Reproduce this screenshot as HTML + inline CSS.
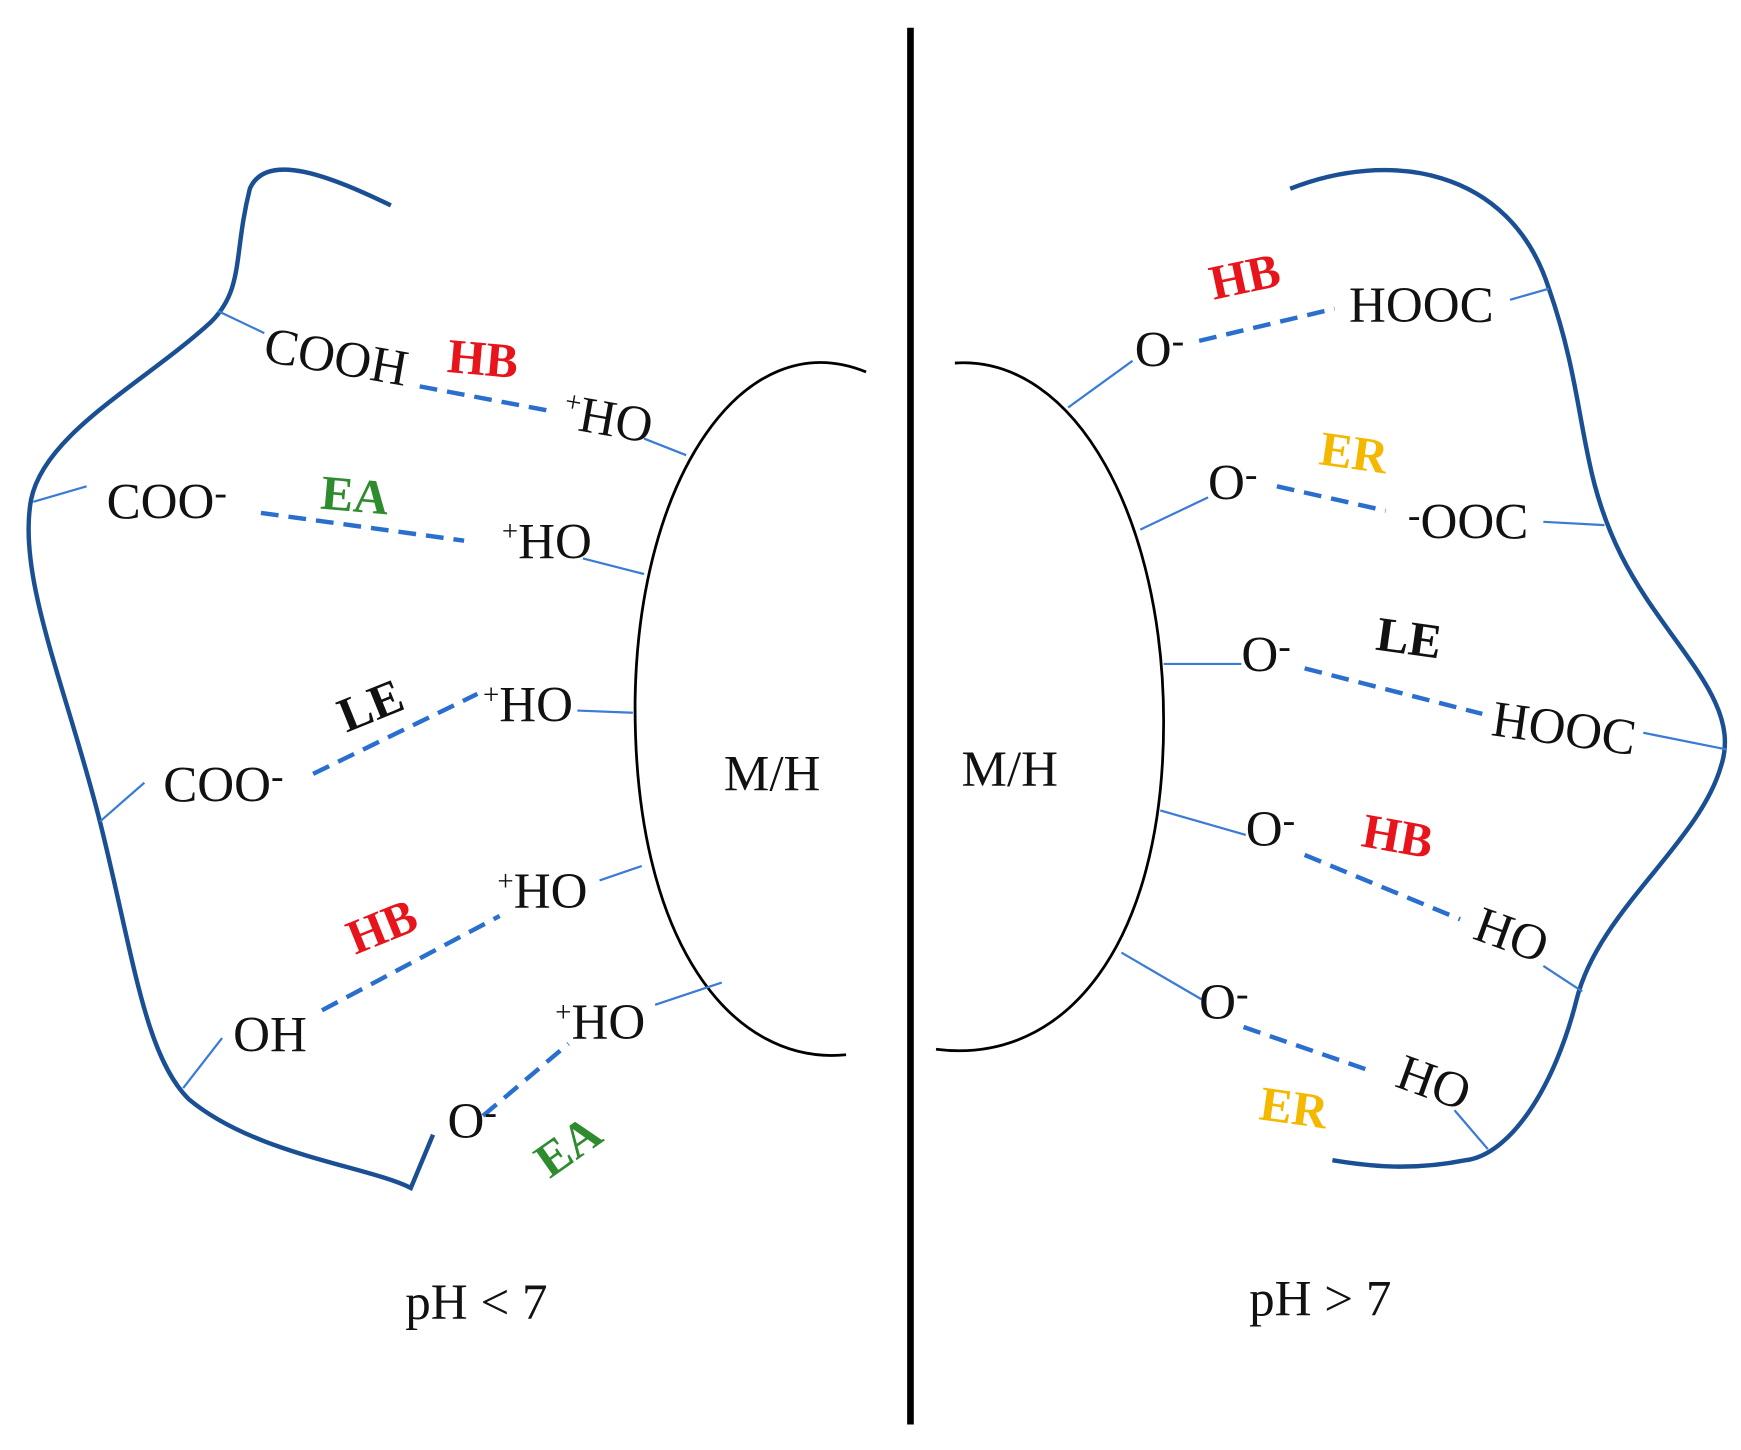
<!DOCTYPE html>
<html><head><meta charset="utf-8"><style>
html,body{margin:0;padding:0;background:#fff;}
svg{display:block;}
text{font-family:"Liberation Serif",serif;font-size:46px;fill:#111;}
.b{font-weight:bold;font-size:44px;}
</style></head><body>
<svg width="1741" height="1450" viewBox="0 0 1568 1306" preserveAspectRatio="none" xmlns="http://www.w3.org/2000/svg">
<rect width="1568" height="1306" fill="#fff"/>
<line x1="820" y1="25" x2="820" y2="1283" stroke="#000" stroke-width="6"/>
<path d="M352,185 C300,160 240,135 225,170 C210,230 220,260 190,290 C130,345 40,390 28,450 C15,520 60,620 90,740 C120,860 130,950 170,990 C230,1040 330,1050 370,1070 L390,1022" fill="none" stroke="#1a4f94" stroke-width="4"/>
<path d="M1162,170 C1250,135 1360,150 1395,260 C1430,360 1420,420 1460,500 C1500,580 1570,630 1550,690 C1530,760 1440,820 1420,900 C1400,980 1360,1040 1320,1045 C1270,1055 1230,1050 1200,1045" fill="none" stroke="#1a4f94" stroke-width="4"/>
<path d="M780,335 C670,290 575,430 572,630 C570,850 660,960 762,950" fill="none" stroke="#000" stroke-width="2.5"/>
<path d="M860,327 C970,320 1048,470 1048,650 C1048,850 960,960 843,945" fill="none" stroke="#000" stroke-width="2.5"/>
<text x="652" y="712">M/H</text>
<text x="866" y="708">M/H</text>
<g stroke="#3a7bd5" stroke-width="2">
<line x1="196" y1="280" x2="238" y2="300"/>
<line x1="30" y1="452" x2="78" y2="438"/>
<line x1="90" y1="740" x2="130" y2="705"/>
<line x1="165" y1="980" x2="200" y2="935"/>
<line x1="580" y1="395" x2="618" y2="410"/>
<line x1="525" y1="503" x2="580" y2="517"/>
<line x1="520" y1="640" x2="570" y2="642"/>
<line x1="540" y1="793" x2="578" y2="780"/>
<line x1="590" y1="905" x2="650" y2="885"/>
<line x1="962" y1="367" x2="1020" y2="325"/>
<line x1="1360" y1="270" x2="1395" y2="260"/>
<line x1="1027" y1="477" x2="1088" y2="448"/>
<line x1="1390" y1="470" x2="1445" y2="473"/>
<line x1="1048" y1="598" x2="1118" y2="598"/>
<line x1="1480" y1="660" x2="1555" y2="675"/>
<line x1="1045" y1="730" x2="1122" y2="752"/>
<line x1="1390" y1="870" x2="1425" y2="893"/>
<line x1="1010" y1="858" x2="1082" y2="900"/>
<line x1="1310" y1="1000" x2="1340" y2="1035"/>
</g>
<g stroke="#2b6fce" stroke-width="4" stroke-dasharray="16,9" fill="none">
<line x1="378" y1="348" x2="495" y2="370"/>
<line x1="235" y1="462" x2="418" y2="487"/>
<line x1="282" y1="697" x2="430" y2="625"/>
<line x1="290" y1="910" x2="450" y2="825"/>
<line x1="435" y1="1005" x2="512" y2="940"/>
<line x1="1080" y1="307" x2="1202" y2="278"/>
<line x1="1150" y1="438" x2="1248" y2="460"/>
<line x1="1175" y1="602" x2="1335" y2="643"/>
<line x1="1175" y1="770" x2="1315" y2="828"/>
<line x1="1120" y1="925" x2="1230" y2="963"/>
</g>
<text x="236" y="325" transform="rotate(10 236 325)">COOH</text>
<text x="505" y="385" transform="rotate(10 505 385)"><tspan font-size="26" dy="-16">+</tspan><tspan dy="16">HO</tspan></text>
<text x="96" y="467">COO<tspan font-size="34" dy="-12">-</tspan></text>
<text x="452" y="503"><tspan font-size="26" dy="-16">+</tspan><tspan dy="16">HO</tspan></text>
<text x="435" y="650"><tspan font-size="26" dy="-16">+</tspan><tspan dy="16">HO</tspan></text>
<text x="147" y="722">COO<tspan font-size="34" dy="-12">-</tspan></text>
<text x="448" y="818"><tspan font-size="26" dy="-16">+</tspan><tspan dy="16">HO</tspan></text>
<text x="210" y="947">OH</text>
<text x="500" y="936"><tspan font-size="26" dy="-16">+</tspan><tspan dy="16">HO</tspan></text>
<text x="403" y="1025">O<tspan font-size="34" dy="-12">-</tspan></text>
<text x="365" y="1188">pH &lt; 7</text>
<text class="b" x="402" y="335" style="fill:#e8141c" transform="rotate(5 402 335)">HB</text>
<text class="b" x="288" y="458" style="fill:#2e8b2e" transform="rotate(5 288 458)">EA</text>
<text class="b" x="312" y="660" style="fill:#111" transform="rotate(-22 312 660)">LE</text>
<text class="b" x="320" y="860" style="fill:#e8141c" transform="rotate(-22 320 860)">HB</text>
<text class="b" x="495" y="1062" style="fill:#2e8b2e" transform="rotate(-35 495 1062)">EA</text>
<text x="1022" y="330">O<tspan font-size="34" dy="-12">-</tspan></text>
<text x="1215" y="290">HOOC</text>
<text x="1088" y="450">O<tspan font-size="34" dy="-12">-</tspan></text>
<text x="1268" y="485"><tspan font-size="34" dy="-10">-</tspan><tspan dy="10">OOC</tspan></text>
<text x="1118" y="605">O<tspan font-size="34" dy="-12">-</tspan></text>
<text x="1342" y="662" transform="rotate(8 1342 662)">HOOC</text>
<text x="1122" y="762">O<tspan font-size="34" dy="-12">-</tspan></text>
<text x="1325" y="845" transform="rotate(20 1325 845)">HO</text>
<text x="1080" y="918">O<tspan font-size="34" dy="-12">-</tspan></text>
<text x="1255" y="978" transform="rotate(20 1255 978)">HO</text>
<text x="1125" y="1185">pH &gt; 7</text>
<text class="b" x="1093" y="270" style="fill:#e8141c" transform="rotate(-12 1093 270)">HB</text>
<text class="b" x="1187" y="418" style="fill:#f5b800" transform="rotate(8 1187 418)">ER</text>
<text class="b" x="1238" y="585" style="fill:#111" transform="rotate(8 1238 585)">LE</text>
<text class="b" x="1225" y="762" style="fill:#e8141c" transform="rotate(10 1225 762)">HB</text>
<text class="b" x="1133" y="1008" style="fill:#f5b800" transform="rotate(8 1133 1008)">ER</text>
</svg>
</body></html>
